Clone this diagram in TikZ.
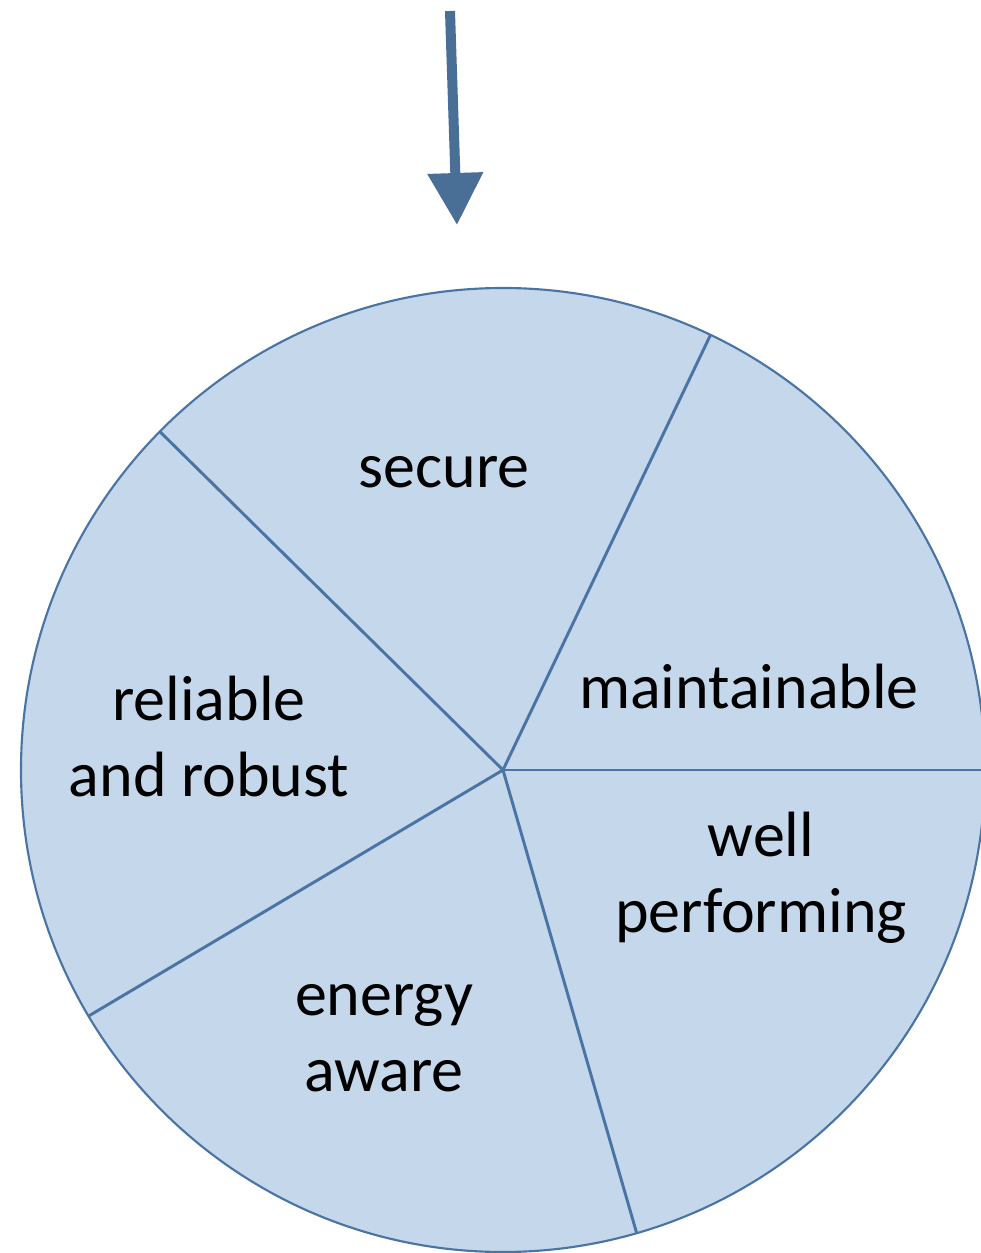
\documentclass[tikz,border=0pt]{standalone}
\usepackage{fontspec}
\setmainfont{Carlito}
\usetikzlibrary{arrows.meta}

\definecolor{pieblue}{HTML}{C5D7EA}
\definecolor{edgeblue}{HTML}{4A74A4}
\definecolor{arrowblue}{HTML}{4A6F96}

\tikzset{
  spoke/.style={edgeblue, line width=2.2pt},
  label/.style={align=center, font=\fontsize{48}{57}\selectfont},
}

\begin{document}
\begin{tikzpicture}[x=0.75pt,y=0.75pt]
			\useasboundingbox (-503,-483) rectangle (478,770);
			\begin{scope}
			\clip (-503,-483) rectangle (478,770);
			\draw[edgeblue, line width=1.6pt, fill=pieblue] (0,0) coordinate (c) circle(482);
			\draw[spoke] (c) -- (64.5:482);
			\draw[spoke] (c) -- (0:482);
			\draw[spoke] (c) -- (-73.9:482);
			\draw[spoke] (c) -- (-149.3:482);
			\draw[spoke] (c) -- (135.4:482);
			\end{scope}
			\coordinate (top) at (-53,759);
			\coordinate (tip) at (-46,545);
			\draw[arrowblue, line width=7.5pt, -{Triangle[width=40pt,length=39pt]}] (top) -- (tip);
			\node[label] (secure) at (-59,298) {secure};
			\node[label] (maint) at (246,83) {maintainable};
			\node[label] (reliable) at (-294,33) {reliable\\and robust};
			\node[label] (well) at (258,-108) {well\\performing};
			\node[label] (energy) at (-119,-268) {energy\\aware};
			\end{tikzpicture}
\end{document}
